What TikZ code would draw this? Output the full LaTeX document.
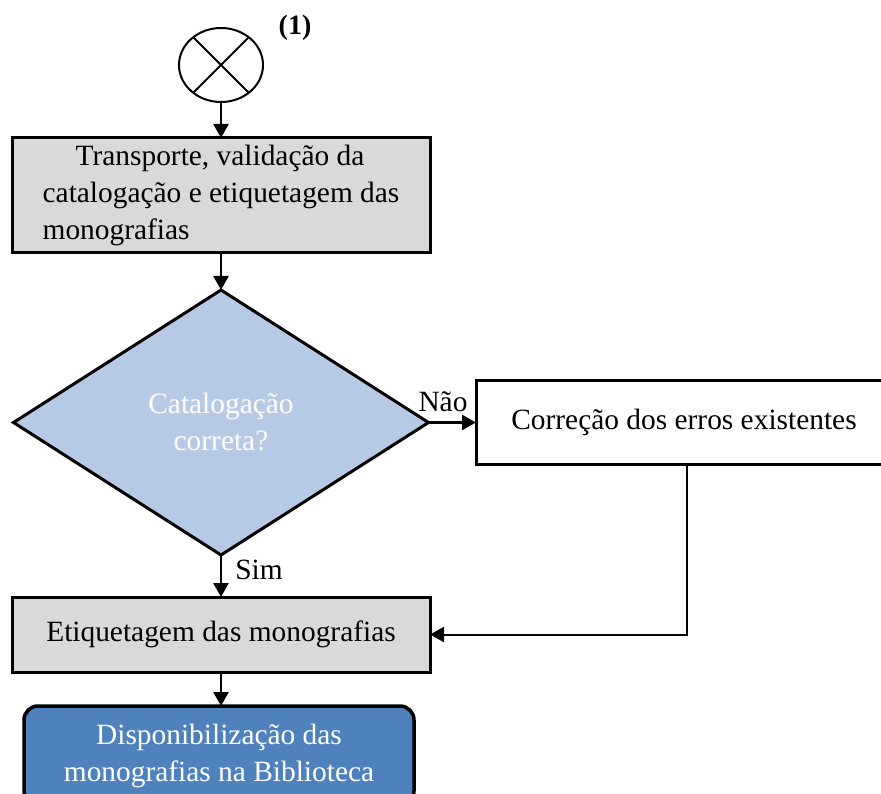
\documentclass[tikz,border=0pt]{standalone}
\usepackage{fontspec}
\setmainfont{Liberation Serif}
\usetikzlibrary{shapes.geometric,arrows.meta}

\definecolor{boxgray}{HTML}{D9D9D9}
\definecolor{declight}{HTML}{B7CAE5}
\definecolor{endblue}{HTML}{4F81BD}

\tikzset{
  every node/.style={inner sep=0pt,outer sep=0pt,font=\fontsize{29.4}{37}\selectfont},
  proc/.style={draw,line width=3pt,align=center},
  flow/.style={line width=2.5pt,-{Triangle[width=15pt,length=14pt]}},
  link/.style={line width=2pt,-{Triangle[width=15pt,length=14pt]}}
}

\begin{document}
\begin{tikzpicture}[x=1pt,y=-1pt]
\clip (0,0) rectangle (881,794);
% start connector
\node[draw,line width=2pt,ellipse,minimum width=84pt,minimum height=74pt] (start) at (221,65) {};
\draw[line width=2pt] (start.45) -- (start.225);
\draw[line width=2pt] (start.135) -- (start.315);
\node[font=\fontsize{28}{30}\selectfont\bfseries] (num) at (295,28) {(1)};
% boxes
\node[proc,fill=boxgray,minimum width=418pt,minimum height=115pt,align=left] (transp) at (221,195.5)
  {\hspace*{33pt}Transporte, validação da\\catalogação e etiquetagem das\\monografias};
\node[draw,line width=3pt,diamond,fill=declight,minimum width=415pt,minimum height=265pt,
  text=white,align=center] (dec) at (221,422.5) {Catalogação\\correta?};
\node[proc,fill=white,minimum width=416pt,minimum height=84pt] (fix) at (684,422.5) {Correção dos erros existentes};
\node[proc,fill=boxgray,minimum width=418pt,minimum height=75pt] (etq) at (221,634.5) {Etiquetagem das monografias};
\node[proc,line width=3.5pt,fill=endblue,rounded corners=14pt,minimum width=390pt,minimum height=99pt,text=white] (disp) at (219,755.5)
  {Disponibilização das\\monografias na Biblioteca};
% labels
\node (nao) at (443,402) {Não};
\node (sim) at (259,570) {Sim};
% arrows
\draw[flow] (start) -- (transp);
\draw[flow] (transp) -- (dec.north);
\draw[flow] (dec.east) -- (fix.west);
\draw[flow] (dec.south) -- (etq.north);
\draw[link] ([xshift=3pt]fix.south) |- (etq.east);
\draw[flow] (etq.south) -- (etq.south |- disp.north);
\end{tikzpicture}
\end{document}
